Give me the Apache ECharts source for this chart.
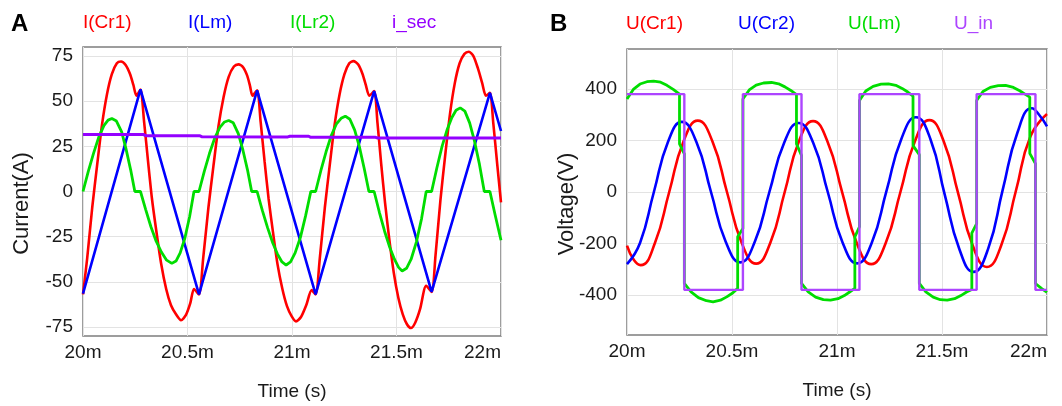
<!DOCTYPE html>
<html><head><meta charset="utf-8">
<script src="https://cdn.jsdelivr.net/npm/echarts@6/dist/echarts.min.js"></script>
<style>html,body{margin:0;padding:0;background:#fff}#c{width:1062px;height:406px}</style>
</head><body><div id="c"></div>
<script>
// ---------- tick values / labels ----------
const xTickValues = [20, 20.5, 21, 21.5, 22];
const xTickLabels = ['20m', '20.5m', '21m', '21.5m', '22m'];
const yTicksA = [-75, -50, -25, 0, 25, 50, 75];
const yTicksB = [-400, -200, 0, 200, 400];

// ---------- Panel A: currents (time in ms, value in A) ----------
const iCr1 = [
[20.000,-57],[20.020,-37],[20.044,-9],[20.068,15],[20.091,37],[20.115,54],[20.138,65],[20.162,71],[20.182,72],[20.204,70],[20.225,65],[20.241,59],[20.256,53],[20.275,56.5],
[20.292,39],[20.311,17],[20.330,-4],[20.351,-22],[20.374,-40],[20.398,-54],[20.421,-63],[20.445,-68],[20.469,-71.3],[20.492,-68.5],[20.513,-62],[20.531,-54],[20.555,-57],
[20.575,-37],[20.600,-9],[20.624,14],[20.648,36],[20.673,52.5],[20.697,63.5],[20.722,69.2],[20.744,70.4],[20.766,68.8],[20.786,64],[20.799,58.5],[20.811,53],[20.833,56],
[20.850,38.5],[20.869,16.5],[20.888,-4],[20.909,-22.5],[20.931,-40.5],[20.954,-54],[20.976,-63.5],[20.998,-69],[21.019,-71.9],[21.043,-69.5],[21.068,-63],[21.094,-54.6],[21.113,-57],
[21.133,-37],[21.157,-9],[21.181,15],[21.204,37],[21.228,54],[21.251,65],[21.274,71],[21.294,72.2],[21.316,70.4],[21.337,65.2],[21.353,59],[21.370,53],[21.393,55.6],
[21.409,38],[21.427,15],[21.445,-6],[21.465,-26],[21.487,-45],[21.509,-59],[21.530,-68],[21.550,-73.5],[21.569,-75.6],[21.590,-72.5],[21.613,-65],[21.642,-52.2],[21.668,-55.6],
[21.687,-35],[21.710,-5],[21.733,20],[21.756,43],[21.779,60],[21.802,71],[21.825,76.2],[21.846,77.4],[21.868,75],[21.890,68],[21.910,60],[21.928,53],[21.947,54.6],
[21.963,38],[21.982,15],[22.000,-6]
];
const iLm = [[20.000,-56.5],[20.275,56.5],[20.555,-57],[20.833,56],[21.113,-57],[21.393,55.6],[21.668,-55.6],[21.947,54.6],[22.000,33.5]];
const iLr2 = [
[20.000,0],[20.025,11],[20.050,21],[20.075,30],[20.100,36.5],[20.120,39.5],[20.138,40.4],[20.160,39],[20.185,33],[20.205,24],[20.228,12],[20.248,0],[20.275,0],
[20.300,-10],[20.325,-19.5],[20.350,-27.5],[20.375,-33.5],[20.400,-38],[20.425,-39.8],[20.445,-38.5],[20.465,-34],[20.487,-26],[20.510,-14],[20.531,0],[20.555,0],
[20.580,11],[20.605,21],[20.630,29.5],[20.655,35.5],[20.677,38.5],[20.697,39.3],[20.719,38],[20.743,32],[20.765,23],[20.787,12],[20.807,0],[20.833,0],
[20.858,-10.5],[20.883,-20],[20.908,-28.5],[20.930,-34.5],[20.952,-39],[20.972,-40.7],[20.993,-39],[21.015,-34],[21.040,-25.5],[21.065,-13.5],[21.090,0],[21.113,0],
[21.138,11.5],[21.163,22],[21.188,31],[21.213,37.5],[21.235,40.5],[21.255,41.7],[21.277,40],[21.300,34],[21.322,25],[21.345,13],[21.368,0],[21.393,0],
[21.418,-11.5],[21.443,-22],[21.468,-31],[21.490,-37.5],[21.510,-42],[21.527,-44],[21.548,-42.5],[21.570,-37.5],[21.595,-28],[21.620,-15],[21.642,0],[21.668,0],
[21.693,13],[21.718,25],[21.743,34.5],[21.765,41],[21.785,45],[21.805,46.3],[21.827,44.5],[21.850,38],[21.873,28],[21.897,15],[21.920,0],[21.947,0],
[21.972,-13],[22.000,-27]
];
const iSec = [[20.000,31.5],[20.290,31.5],[20.300,30.9],[20.560,30.8],[20.570,30.3],[20.980,30.2],[20.990,30.6],[21.080,30.6],[21.090,30.0],[21.400,30.0],[21.410,29.6],[22.000,29.6]];

// ---------- Panel B: voltages (time in ms, value in V) ----------
const uCr1 = [
[20.000,-208],[20.033,-264],[20.065,-284],[20.133,-198],[20.201,0],[20.269,196],[20.337,277],[20.407,196],[20.476,0],[20.546,-197],[20.615,-278],
[20.683,-196],[20.751,0],[20.818,195],[20.886,275],[20.955,195],[21.025,-2],[21.094,-198],[21.163,-280],[21.232,-198],[21.302,0],[21.371,197],[21.440,279],
[21.508,197],[21.577,-5],[21.645,-205],[21.714,-291],[21.783,-205],[21.852,5],[21.921,215],[22.000,303]
];
const uCr2 = [
[20.000,-280],[20.062,-198],[20.128,0],[20.195,194],[20.261,272],[20.331,193],[20.400,0],[20.470,-193],[20.540,-273],[20.609,-192],[20.678,0],[20.748,190],[20.817,268],
[20.887,190],[20.956,0],[21.026,-195],[21.096,-277],[21.166,-196],[21.236,5],[21.306,205],[21.376,290],[21.445,205],[21.513,-10],[21.582,-220],[21.650,-310],
[21.720,-220],[21.789,8],[21.859,230],[21.928,325],[21.964,298],[22.000,255]
];
const uLm = [
[20.000,361],[20.030,398],[20.062,419],[20.095,428],[20.127,430],[20.160,426],[20.190,414],[20.220,398],[20.250,380],[20.250,187],[20.273,148],[20.273,-355],
[20.305,-388],[20.340,-410],[20.378,-422],[20.410,-426],[20.445,-420],[20.475,-407],[20.503,-392],[20.527,-374],[20.527,-174],[20.552,-142],[20.552,361],
[20.582,396],[20.615,415],[20.650,423],[20.688,425],[20.722,420],[20.752,408],[20.780,394],[20.807,378],[20.807,187],[20.831,142],[20.831,-355],
[20.863,-388],[20.898,-408],[20.935,-418],[20.969,-420],[21.005,-414],[21.035,-402],[21.060,-388],[21.085,-374],[21.085,-174],[21.107,-135],[21.107,355],
[21.137,392],[21.172,410],[21.210,419],[21.245,420],[21.280,414],[21.310,402],[21.337,388],[21.362,372],[21.362,180],[21.392,145],[21.392,-355],
[21.423,-388],[21.458,-408],[21.492,-418],[21.525,-420],[21.560,-414],[21.590,-402],[21.617,-388],[21.642,-378],[21.642,-160],[21.665,-123],[21.665,355],
[21.695,390],[21.730,406],[21.768,413],[21.803,414],[21.840,406],[21.870,393],[21.895,380],[21.918,368],[21.918,150],[21.945,110],[21.945,-355],
[21.975,-375],[22.000,-390]
];
const uIn = [[20.000,380],[20.273,380],[20.273,-380],[20.552,-380],[20.552,380],[20.831,380],[20.831,-380],[21.107,-380],[21.107,380],[21.392,380],[21.392,-380],[21.665,-380],[21.665,380],[21.945,380],[21.945,-380],[22.000,-380]];

// ---------- names / colours ----------
const namesA = ['I(Cr1)', 'I(Lm)', 'I(Lr2)', 'i_sec'];
const namesB = ['U(Cr1)', 'U(Cr2)', 'U(Lm)', 'U_in'];
const colorsA = ['#ff0000', '#0000ff', '#00dd00', '#9400ff'];
const colorsB = ['#ff0000', '#0000ff', '#00dd00', '#ad45ff'];

const FONT = '"Liberation Sans", Arial, Helvetica, sans-serif';
const chart = echarts.init(document.getElementById('c'));

function xAxisFor(g) {
  return {
    gridIndex: g, type: 'value', min: 20, max: 22, interval: 0.5,
    axisLine: {show: false}, axisTick: {show: false},
    splitLine: {show: true, lineStyle: {color: '#e3e3e3', width: 1}},
    axisLabel: {fontSize: 19, color: '#1a1a1a', margin: 7, alignMaxLabel: 'right',
      formatter: v => { const i = xTickValues.findIndex(t => Math.abs(t - v) < 1e-6); return i >= 0 ? xTickLabels[i] : ''; }},
    name: 'Time (s)', nameLocation: 'middle', nameGap: 46,
    nameTextStyle: {fontSize: 19, color: '#1a1a1a'}
  };
}
function yAxisFor(g, mn, mx, ticks, name, gap) {
  return {
    gridIndex: g, type: 'value', min: mn, max: mx,
    axisLine: {show: false},
    axisTick: {show: false, customValues: ticks},
    splitLine: {show: true, lineStyle: {color: '#e3e3e3', width: 1}},
    axisLabel: {customValues: ticks, fontSize: 19, color: '#1a1a1a', margin: 10},
    name: name, nameLocation: 'middle', nameGap: gap, nameMoveOverlap: false,
    nameTextStyle: {fontSize: 22, color: '#1a1a1a', padding: [0, 24, 0, 0]}
  };
}
function legendFor(name, color, left, top) {
  return {
    data: [{name: name, textStyle: {color: color}}], left: left, top: top, padding: 0,
    icon: 'none', itemWidth: 0, itemHeight: 0, itemGap: 0, selectedMode: false,
    textStyle: {fontSize: 19, color: color, fontFamily: FONT}
  };
}
function lineSeries(name, data, color, xi, width, smooth) {
  return {
    name: name, type: 'line', xAxisIndex: xi, yAxisIndex: xi, data: data,
    showSymbol: false, symbol: 'none', smooth: smooth, clip: true,
    lineStyle: {color: color, width: width}, itemStyle: {color: color}
  };
}

const legendLeftA = [78, 183, 285, 387];
const legendLeftB = [621, 733, 843, 949];

chart.setOption({
  animation: false,
  textStyle: {fontFamily: FONT},
  title: [
    {text: 'A', left: 11, top: 12, padding: 0, textStyle: {fontSize: 24, fontWeight: 'bold', color: '#000', fontFamily: FONT}},
    {text: 'B', left: 550, top: 12, padding: 0, textStyle: {fontSize: 24, fontWeight: 'bold', color: '#000', fontFamily: FONT}}
  ],
  legend: namesA.map((n, i) => legendFor(n, colorsA[i], legendLeftA[i], 13))
    .concat(namesB.map((n, i) => legendFor(n, colorsB[i], legendLeftB[i], 14))),
  grid: [
    {left: 83, right: 561, top: 47, bottom: 70, show: true, borderColor: '#7d7d7d', borderWidth: 1.5},
    {left: 627, right: 15, top: 49, bottom: 71, show: true, borderColor: '#7d7d7d', borderWidth: 1.5}
  ],
  xAxis: [xAxisFor(0), xAxisFor(1)],
  yAxis: [yAxisFor(0, -80, 80, yTicksA, 'Current(A)', 50), yAxisFor(1, -555, 555, yTicksB, 'Voltage(V)', 49)],
  series: [
    lineSeries(namesA[0], iCr1, colorsA[0], 0, 2.6, 0.25),
    lineSeries(namesA[1], iLm, colorsA[1], 0, 2.6, false),
    lineSeries(namesA[2], iLr2, colorsA[2], 0, 2.8, false),
    lineSeries(namesA[3], iSec, colorsA[3], 0, 3, false),
    lineSeries(namesB[0], uCr1, colorsB[0], 1, 2.6, 0.5),
    lineSeries(namesB[1], uCr2, colorsB[1], 1, 2.6, 0.5),
    lineSeries(namesB[2], uLm, colorsB[2], 1, 2.8, false),
    lineSeries(namesB[3], uIn, colorsB[3], 1, 2.4, false)
  ]
});
</script>
</body></html>
